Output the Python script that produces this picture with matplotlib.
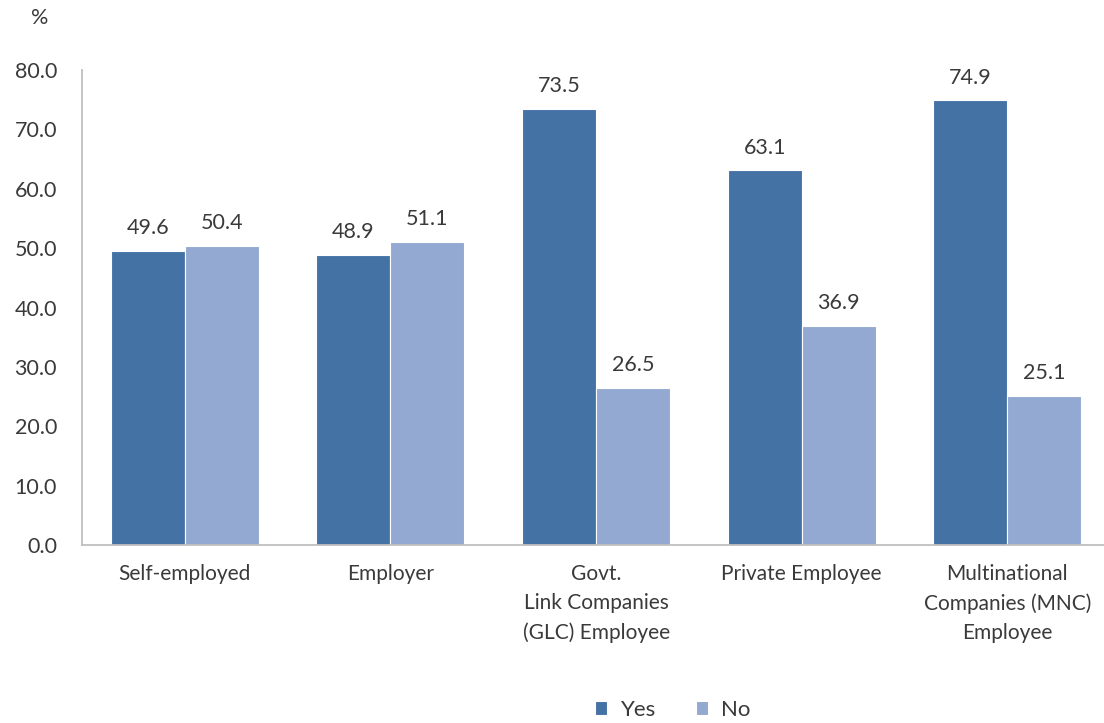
import matplotlib
matplotlib.use("Agg")
import matplotlib.pyplot as plt
import numpy as np

categories = ["Self-employed", "Employer", "Govt.\nLink Companies\n(GLC) Employee",
              "Private Employee", "Multinational\nCompanies (MNC)\nEmployee"]
yes_vals = [49.6, 48.9, 73.5, 63.1, 74.9]
no_vals = [50.4, 51.1, 26.5, 36.9, 25.1]
series_names = ["Yes", "No"]
yticks = [0, 10, 20, 30, 40, 50, 60, 70, 80]

plt.rcParams['font.family'] = ['Lato', 'DejaVu Sans']
text_color = "#3a3a3a"

fig = plt.figure(figsize=(11.04, 7.23), dpi=100)
ax = fig.add_axes([82/1104, 1-545/723, 1-82/1104, (545-70)/723])

x = np.arange(len(categories))
w = 0.36
c_yes = "#4572a5"
c_no = "#94a9d1"
b1 = ax.bar(x - w/2, yes_vals, w, color=c_yes, edgecolor="white", linewidth=0.8, label=series_names[0])
b2 = ax.bar(x + w/2, no_vals, w, color=c_no, edgecolor="white", linewidth=0.8, label=series_names[1])

for bars, vals in ((b1, yes_vals), (b2, no_vals)):
    for r, v in zip(bars, vals):
        ax.annotate(f"{v:.1f}", (r.get_x() + r.get_width()/2, v), xytext=(0, 9),
                    textcoords="offset points", ha="center", va="bottom",
                    fontsize=15.5, color=text_color)

ax.set_ylim(0, 80)
ax.set_xlim(-0.5, 4.47)
ax.set_yticks(yticks)
ax.set_yticklabels([f"{t:.1f}" for t in yticks], fontsize=15.5, color=text_color)
ax.set_xticks(x)
ax.set_xticklabels(categories, fontsize=15, color=text_color, linespacing=1.55, va="top")
ax.tick_params(axis="both", length=0)
ax.tick_params(axis="x", pad=14)
ax.tick_params(axis="y", pad=18)
for s in ("top", "right"):
    ax.spines[s].set_visible(False)
for s in ("left", "bottom"):
    ax.spines[s].set_color("#bfbfbf")
    ax.spines[s].set_linewidth(1.3)

fig.text(40/1104, 1-18/723, "%", fontsize=15.5, color=text_color, ha="center", va="center")

leg = fig.legend(handles=[b1, b2], labels=series_names, loc="center", bbox_to_anchor=(673/1104, 1-710/723),
                 ncol=2, frameon=False, fontsize=16, handlelength=0.55, handleheight=0.55,
                 handletextpad=0.6, columnspacing=1.8, labelcolor=text_color)

fig.savefig("out.png", dpi=100)
